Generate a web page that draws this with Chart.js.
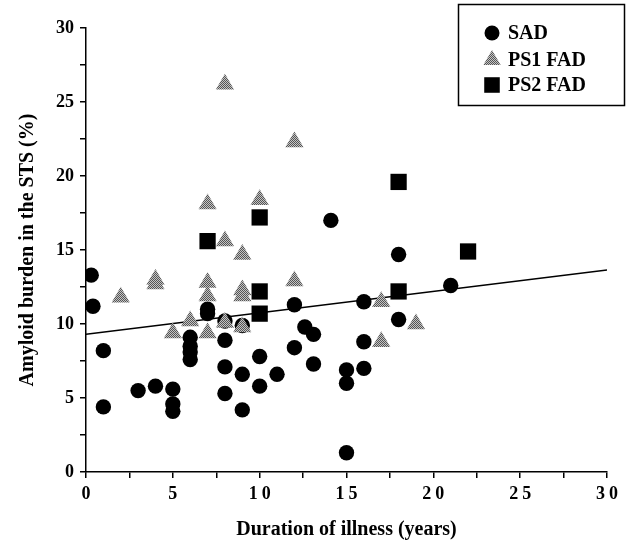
<!DOCTYPE html>
<html>
<head>
<meta charset="utf-8">
<script src="https://cdn.jsdelivr.net/npm/chart.js@4.4.0/dist/chart.umd.min.js"></script>
<style>
  html, body { margin: 0; padding: 0; background: #fff; }
  #wrap { width: 626px; height: 548px; }
</style>
</head>
<body>
<div id="wrap"><canvas id="amyloidChart" width="626" height="548"></canvas></div>
<script>
// Values (duration in years, amyloid burden in %)
const sadX = [0.3, 0.4, 1, 1, 3, 4, 5, 5, 5, 6, 6, 6, 6, 7, 7, 8, 8, 8, 8, 9, 9, 9,
              10, 10, 11, 12, 12, 12.6, 13.1, 13.1, 14.1, 15, 15, 15, 16, 16, 16, 18, 18, 21];
const sadY = [13.3, 11.2, 8.2, 4.4, 5.5, 5.8, 5.6, 4.6, 4.1, 9.1, 8.5, 8.1, 7.6, 11.0, 10.7,
              10.2, 8.9, 7.1, 5.3, 9.9, 6.6, 4.2, 7.8, 5.8, 6.6, 11.3, 8.4, 9.8, 9.3, 7.3,
              17.0, 6.9, 6.0, 1.3, 11.5, 8.8, 7.0, 14.7, 10.3, 12.6];

const ps1X = [2, 4, 4, 5, 6, 7, 7, 7, 7, 8, 8, 8, 9, 9, 9, 9, 10, 12, 12, 17, 17, 19];
const ps1Y = [11.8, 13.0, 12.7, 9.4, 10.2, 18.1, 12.8, 11.9, 9.4, 26.2, 15.6, 10.1,
              14.7, 12.3, 11.9, 9.8, 18.4, 22.3, 12.9, 11.5, 8.8, 10.0];

const ps2X = [7, 10, 10, 10, 18, 18, 22];
const ps2Y = [15.6, 17.2, 12.2, 10.7, 19.6, 12.2, 14.9];

// regression line end points
const fitX = [0, 30];
const fitY = [9.3, 13.65];

const seriesNames = ['SAD', 'PS1 FAD', 'PS2 FAD'];

const serif = "'Liberation Serif', 'DejaVu Serif', serif";

function toPoints(xs, ys) {
    return xs.map((x, i) => ({ x: x, y: ys[i] }));
}

// dithered grey like the printed triangles
function makeDither() {
    const c = document.createElement('canvas');
    c.width = 2; c.height = 2;
    const g = c.getContext('2d');
    g.fillStyle = '#c4c4c4';
    g.fillRect(0, 0, 2, 2);
    g.fillStyle = '#555555';
    g.fillRect(0, 0, 1, 1);
    g.fillRect(1, 1, 1, 1);
    return g.createPattern(c, 'repeat');
}

const dither = makeDither();

// boxed legend in the top right corner
const boxLegend = {
    id: 'boxLegend',
    afterDraw(chart) {
        const ctx = chart.ctx;
        ctx.save();
        ctx.strokeStyle = '#000';
        ctx.lineWidth = 1.5;
        ctx.strokeRect(458.5, 4.5, 166, 101);

        const rows = [
            { name: seriesNames[0], style: 'circle', radius: 7.5, fill: '#000', y: 33 },
            { name: seriesNames[1], style: 'triangle', radius: 10, fill: dither, y: 60 },
            { name: seriesNames[2], style: 'rect', radius: 11, fill: '#000', y: 85 }
        ];
        rows.forEach(r => {
            ctx.fillStyle = r.fill;
            Chart.helpers.drawPoint(ctx, { pointStyle: r.style, radius: r.radius, rotation: 0, borderWidth: 0 }, 492, r.y);
            ctx.fillStyle = '#000';
            ctx.font = 'bold 20px ' + serif;
            ctx.textBaseline = 'middle';
            ctx.textAlign = 'left';
            ctx.fillText(r.name, 508, r.y + 1);
        });
        ctx.restore();
    }
};

// the x tick numbers are printed with wide letter spacing
const spacedX = {
    id: 'spacedX',
    beforeDraw(chart) {
        const sc = chart.scales.x;
        if (sc._spaced) return;
        const orig = sc.drawLabels.bind(sc);
        sc.drawLabels = function (area) {
            const c = this.ctx;
            c.save();
            c.letterSpacing = '4px';
            c.translate(2, 0);
            orig(area);
            c.restore();
        };
        sc._spaced = true;
    }
};

const tickFont = { family: serif, size: 18, weight: 'bold' };
const titleFont = { family: serif, size: 20, weight: 'bold' };

const ctx = document.getElementById('amyloidChart').getContext('2d');
const chart = new Chart(ctx, {
    type: 'scatter',
    data: {
        datasets: [
            {
                label: seriesNames[2],
                data: toPoints(ps2X, ps2Y),
                pointStyle: 'rect',
                pointRadius: 11.5,
                backgroundColor: '#000',
                borderWidth: 0
            },
            {
                label: seriesNames[1],
                data: toPoints(ps1X, ps1Y),
                pointStyle: 'triangle',
                pointRadius: 10.5,
                backgroundColor: dither,
                borderWidth: 0
            },
            {
                label: seriesNames[0],
                data: toPoints(sadX, sadY),
                pointStyle: 'circle',
                pointRadius: 7.7,
                backgroundColor: '#000',
                borderWidth: 0
            },
            {
                label: 'fit',
                data: toPoints(fitX, fitY),
                showLine: true,
                borderColor: '#000',
                borderWidth: 1.5,
                pointRadius: 0
            }
        ]
    },
    options: {
        responsive: false,
        animation: false,
        layout: { padding: { top: 28, right: 19, left: 0, bottom: 0 } },
        plugins: {
            legend: { display: false },
            tooltip: { enabled: false }
        },
        scales: {
            x: {
                type: 'linear',
                min: 0,
                max: 30,
                afterFit: s => { s.height = 76; },
                grid: { drawOnChartArea: false, color: '#000', lineWidth: 1.5, tickLength: 6 },
                border: { color: '#000', width: 1.5 },
                ticks: {
                    stepSize: 2.5,
                    autoSkip: false,
                    maxRotation: 0,
                    padding: 6,
                    color: '#000',
                    font: tickFont,
                    callback: v => (v % 5 === 0 ? v : '')
                },
                title: {
                    display: true,
                    text: 'Duration of illness (years)',
                    color: '#000',
                    font: titleFont,
                    padding: { top: 0, bottom: 6 }
                }
            },
            y: {
                type: 'linear',
                min: 0,
                max: 30,
                afterFit: s => { s.width = 86; },
                grid: { drawOnChartArea: false, color: '#000', lineWidth: 1.5, tickLength: 6 },
                border: { color: '#000', width: 1.5 },
                ticks: {
                    stepSize: 2.5,
                    autoSkip: false,
                    padding: 6,
                    color: '#000',
                    font: tickFont,
                    callback: v => (v % 5 === 0 ? v : '')
                },
                title: {
                    display: true,
                    text: 'Amyloid burden in the STS (%)',
                    color: '#000',
                    font: titleFont,
                    padding: { top: 16, bottom: 0 }
                }
            }
        }
    },
    plugins: [boxLegend, spacedX]
});
</script>
</body>
</html>
